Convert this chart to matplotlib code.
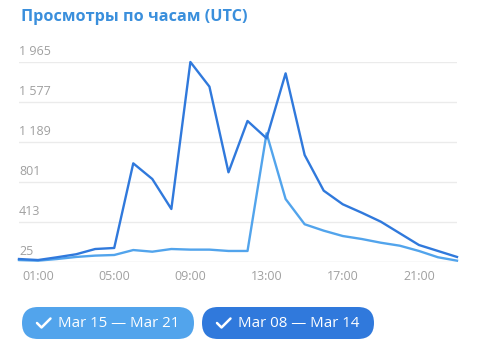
import matplotlib.pyplot as plt
from matplotlib.patches import FancyBboxPatch
from matplotlib.transforms import blended_transform_factory, offset_copy

plt.rcParams['font.family'] = ['Open Sans', 'DejaVu Sans']

hours = list(range(24))
week_0814 = [54, 44, 71, 100, 151, 161, 982, 830, 539, 1965, 1726, 895,
             1393, 1225, 1855, 1063, 717, 585, 503, 416, 303, 190, 132, 74]
week_1521 = [44, 38, 54, 74, 87, 93, 141, 125, 151, 145, 145, 132,
             132, 1273, 636, 391, 329, 277, 248, 212, 183, 132, 71, 38]
yticks = [25, 413, 801, 1189, 1577, 1965]
ytick_labels = ['25', '413', '801', '1 189', '1 577', '1 965']
xticks = [1, 5, 9, 13, 17, 21]
xtick_labels = ['01:00', '05:00', '09:00', '13:00', '17:00', '21:00']
legend_labels = ['Mar 15 — Mar 21', 'Mar 08 — Mar 14']

dark = '#3079dc'
light = '#52a4ec'
grey = '#a0a0a0'

fig = plt.figure(figsize=(4.79, 3.48), dpi=100)
ax = fig.add_axes([19 / 479, 86 / 348, 438 / 479, 200 / 348])
ax.set_xlim(0, 23)
ax.set_ylim(25, 1965)

for v in yticks:
    ax.axhline(v, color='#ebebeb' if v != 25 else '#dedede', lw=1, zorder=0)

ax.plot(hours, week_1521, color=light, lw=1.7, clip_on=False, zorder=2)
ax.plot(hours, week_0814, color=dark, lw=1.7, clip_on=False, zorder=3)

for s in ax.spines.values():
    s.set_visible(False)
ax.set_yticks([])
ax.set_xticks(xticks)
ax.set_xticklabels(xtick_labels, color=grey, fontsize=9)
ax.tick_params(axis='x', length=0, pad=6)

trans = offset_copy(blended_transform_factory(ax.transAxes, ax.transData), fig=fig, x=0, y=3, units='points')
for v, lab in zip(yticks, ytick_labels):
    ax.text(0, v, lab, transform=trans, ha='left', va='bottom', color=grey, fontsize=9)

fig.text(21 / 479, 1 - 17 / 348, 'Просмотры по часам (UTC)', color='#3a8fdc',
         fontsize=11.7, fontweight='bold', ha='left', va='center')

# legend buttons, drawn in pixel coords (y measured from bottom)
ov = fig.add_axes([0, 0, 1, 1])
ov.set_xlim(0, 479)
ov.set_ylim(0, 348)
ov.axis('off')
buttons = [(22, 194, light), (202, 374, dark)]
for (x0, x1, c), lab in zip(buttons, legend_labels):
    ov.add_patch(FancyBboxPatch((x0, 348 - 339), x1 - x0, 32,
                                boxstyle='round,pad=0,rounding_size=16',
                                fc=c, ec='none'))
    ov.plot([x0 + 15, x0 + 19.5, x0 + 28.5], [348 - 323, 348 - 327.5, 348 - 318.5],
            color='white', lw=1.8, solid_capstyle='round', solid_joinstyle='round')
    ov.text(x0 + 36, 348 - 323.5, lab, color='white', fontsize=10.8, ha='left', va='center')

fig.savefig('out.png', dpi=100)
